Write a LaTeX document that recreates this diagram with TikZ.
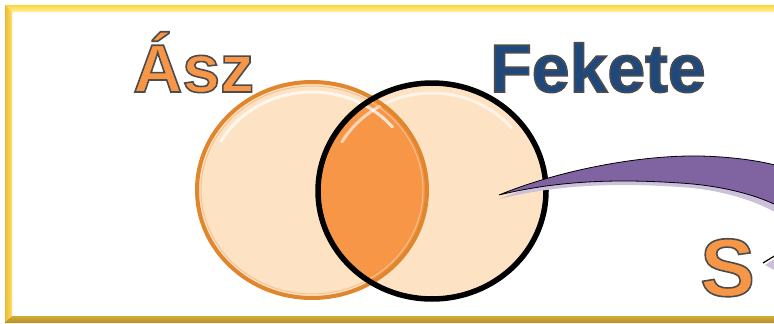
\documentclass[tikz,border=0pt]{standalone}
\usepackage{fontspec}
\setmainfont{Liberation Sans}
\usetikzlibrary{shapes.geometric}
\definecolor{peach}{HTML}{FDE2C3}
\definecolor{orangeA}{HTML}{F79646}
\definecolor{orangeRing}{HTML}{E0862E}
\definecolor{navy}{HTML}{1F497D}
\definecolor{purp}{HTML}{8064A2}
\definecolor{purpL}{HTML}{CCC1DA}
\definecolor{goldY}{HTML}{FFD340}
\definecolor{goldP}{HTML}{FFF2A0}
\definecolor{goldM}{HTML}{EDB932}
\definecolor{goldB}{HTML}{B8902E}
\newcommand{\strokedtext}[1]{%
  \special{pdf:literal direct 2 Tr 1.6 w 0.3 0.3 0.3 RG}#1\special{pdf:literal direct 0 Tr}}
\begin{document}
\begin{tikzpicture}[x=1pt,y=-1pt,
  label text/.style={anchor=base west, inner sep=0pt, font=\fontsize{68}{70}\selectfont\bfseries}]
\useasboundingbox (0,0) rectangle (774,324);
\begin{scope}
\clip (0,0) rectangle (774,324);
% frame
\fill[white] (0,0) rectangle (800,324);
\shade[top color=goldB!60!goldY, bottom color=goldB] (5,316) -- (12,316) -- (800,316) -- (800,323) -- (5,323) -- cycle;
\shade[top color=goldY, bottom color=goldP] (5,5) -- (800,5) -- (800,12) -- (12,12) -- cycle;
\shade[left color=goldM, right color=goldY!60!goldP] (5,5) -- (12,12) -- (12,316) -- (5,322) -- cycle;

% circles
\fill[peach] (312,190) ellipse [x radius=115, y radius=108];
\fill[peach] (432,191) ellipse [x radius=114, y radius=108];
\begin{scope}
  \clip (312,190) ellipse [x radius=115, y radius=108];
  \fill[orangeA] (432,191) ellipse [x radius=114, y radius=108];
\end{scope}
% glossy highlights
\draw[white, line width=3pt, opacity=0.75, line cap=round] (312,190) ++(-150:105 and 98) arc[start angle=-150, end angle=-40, x radius=105, y radius=98];
\draw[white, line width=3pt, opacity=0.6, line cap=round] (432,191) ++(-150:104 and 98) arc[start angle=-150, end angle=-40, x radius=104, y radius=98];
\node[draw=orangeRing, line width=4pt, ellipse, minimum width=230pt, minimum height=216pt, inner sep=0pt, outer sep=0pt] (asz) at (312,190) {};
\draw[orangeA!60!white, line width=1pt] (312,190) ellipse [x radius=111, y radius=104];
\node[draw=black, line width=5.5pt, ellipse, minimum width=228pt, minimum height=216pt, inner sep=0pt] (fek) at (432,191) {};

% swoosh shadow
\fill[purpL] (499,199) .. controls (560,174) and (640,160) .. (700,160)
  .. controls (740,160) and (774,167) .. (790,174)
  -- (790,222) .. controls (770,206) and (730,190) .. (680,187)
  .. controls (620,183) and (560,184) .. (499,199) -- cycle;
% swoosh
\fill[purp, draw=black, line width=0.8pt] (499,195) .. controls (560,170) and (640,155) .. (700,156)
  .. controls (740,157) and (774,163) .. (790,170)
  -- (790,213) .. controls (770,199) and (730,186) .. (680,183)
  .. controls (620,179) and (560,180) .. (499,195) -- cycle;
% small piece near S
\fill[purpL] (765,265) -- (776,258) -- (776,271) -- cycle;
\draw[black, line width=1.2pt] (763,263) -- (776,255);

% texts
\node[label text, text=orangeA] (t1) at (133,92) {\strokedtext{Ász}};
\node[label text, text=navy] (t2) at (490,92) {\strokedtext{Fekete}};
\node[label text, text=orangeA, font=\fontsize{82}{84}\selectfont\bfseries] (t3) at (700,296) {\strokedtext{S}};
\end{scope}
\end{tikzpicture}
\end{document}
